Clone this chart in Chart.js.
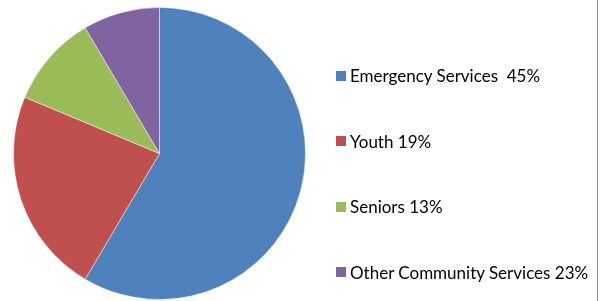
<!DOCTYPE html>
<html>
<head>
<meta charset="utf-8">
<script src="https://cdn.jsdelivr.net/npm/chart.js@4.4.1/dist/chart.umd.min.js"></script>
<style>
    body { margin: 0; background: #fff; }
    #wrap { position: relative; width: 601px; height: 301px; overflow: hidden; }
    #pie-chart { position: absolute; left: 0; top: 0; }
    #right-rule { position: absolute; left: 597px; top: 0; width: 1px; height: 301px; background: #8c8c8c; }
    #legend { position: absolute; left: 336px; top: 43px; margin: 0; padding: 0; list-style: none;
        font-family: Lato, 'Open Sans', sans-serif; font-size: 17px; color: #000; }
    #legend li { height: 65.5px; display: flex; align-items: center; white-space: pre; }
    #legend .swatch { width: 10px; height: 10px; margin-right: 4px; flex: none; }
</style>
</head>
<body>
<div id="wrap">
    <canvas id="pie-chart" width="601" height="301"></canvas>
    <ul id="legend"></ul>
    <div id="right-rule"></div>
</div>
<script>
const categories = ['Emergency Services  45%', 'Youth 19%', 'Seniors 13%', 'Other Community Services 23%'];
const sliceValues = [58.5, 22.8, 10.2, 8.5];
const sliceColors = ['#4f81bd', '#c0504d', '#9bbb59', '#8064a2'];

const ctx = document.getElementById('pie-chart').getContext('2d');

const chart = new Chart(ctx, {
    type: 'pie',
    data: {
        labels: categories,
        datasets: [{
            data: sliceValues,
            backgroundColor: sliceColors,
            borderColor: 'rgba(255, 255, 255, 0.45)',
            borderWidth: 1,
        }]
    },
    options: {
        responsive: false,
        animation: false,
        layout: {
            padding: {
                left: 0,
                right: 282,
                top: 7,
                bottom: 1
            }
        },
        plugins: {
            legend: { display: false },
            tooltip: { enabled: false }
        }
    }
});

// HTML legend built from the chart's own legend items
const legendList = document.getElementById('legend');
chart.options.plugins.legend.labels.generateLabels(chart).forEach(item => {
    const li = document.createElement('li');
    const swatch = document.createElement('span');
    swatch.className = 'swatch';
    swatch.style.background = item.fillStyle;
    li.appendChild(swatch);
    li.appendChild(document.createTextNode(item.text));
    legendList.appendChild(li);
});
</script>
</body>
</html>
